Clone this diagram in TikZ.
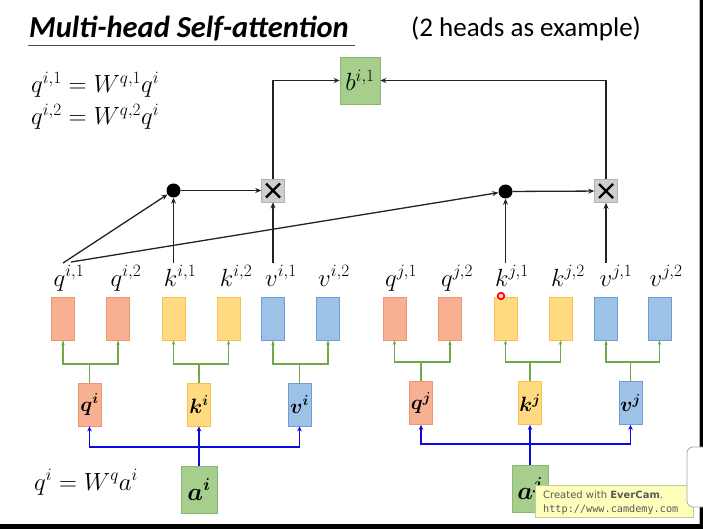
\documentclass[tikz,border=0pt]{standalone}
\usepackage{fontspec}
\usepackage{bm}
\newfontfamily\carlito{Carlito}
\newfontfamily\wmsans{DejaVu Sans}
\newfontfamily\wmmono{DejaVu Sans Mono}
\usetikzlibrary{arrows.meta,calc}
\definecolor{orfill}{RGB}{248,176,146}
\definecolor{ordraw}{RGB}{238,150,112}
\definecolor{yefill}{RGB}{255,218,128}
\definecolor{yedraw}{RGB}{246,192,82}
\definecolor{blfill}{RGB}{156,194,232}
\definecolor{bldraw}{RGB}{112,156,210}
\definecolor{grfill}{RGB}{166,206,140}
\definecolor{grdraw}{RGB}{138,184,112}
\definecolor{gyfill}{RGB}{206,206,206}
\definecolor{gydraw}{RGB}{178,178,178}
\definecolor{gline}{RGB}{112,170,72}
\definecolor{bline}{RGB}{10,10,225}
\definecolor{kline}{RGB}{35,35,35}
\definecolor{wmfill}{RGB}{255,255,188}
\definecolor{wmdraw}{RGB}{200,200,150}
\begin{document}
\begin{tikzpicture}[x=1pt,y=-1pt,
  hbox/.style={minimum width=23pt,minimum height=43pt,inner sep=0pt,line width=0.7pt},
  vbox/.style={minimum width=23pt,minimum height=43pt,inner sep=0pt,line width=0.7pt,font=\fontsize{22}{24}\selectfont},
  abox/.style={minimum width=36pt,minimum height=47pt,inner sep=0pt,line width=0.7pt,fill=grfill,draw=grdraw,font=\fontsize{24}{26}\selectfont},
  orb/.style={fill=orfill,draw=ordraw},
  yeb/.style={fill=yefill,draw=yedraw},
  blb/.style={fill=blfill,draw=bldraw},
  lab/.style={anchor=base,inner sep=0pt,font=\fontsize{24}{26}\selectfont},
  dotn/.style={circle,fill=black,minimum size=14pt,inner sep=0pt},
  mult/.style={rectangle,fill=gyfill,draw=gydraw,line width=0.5pt,minimum size=23pt,inner sep=0pt,
    path picture={\draw[line width=2.4pt,black]
      ($(path picture bounding box.center)+(-7,-7)$) -- ($(path picture bounding box.center)+(7,7)$)
      ($(path picture bounding box.center)+(-7,7)$) -- ($(path picture bounding box.center)+(7,-7)$);}},
  arr/.style={draw=kline,line width=1.3pt,-{Stealth[length=6pt,width=5pt]}},
  gl/.style={draw=gline,line width=1.2pt},
  garr/.style={gl,-{Stealth[length=4.5pt,width=3.5pt]}},
  bl/.style={draw=bline,line width=1.4pt},
  barr/.style={bl,-{Stealth[length=5pt,width=4.5pt]}},
  eqn/.style={anchor=base west,inner sep=0pt,font=\fontsize{25}{27}\selectfont}
]
\useasboundingbox (0,0) rectangle (703,529);
\fill[white] (0,0) rectangle (703,529);

% title
\node[anchor=base west,inner sep=0pt,font=\carlito\fontsize{30.5}{34}\selectfont\bfseries\itshape] (title) at (29,38) {Multi-head Self-attention};
\draw[line width=1.6pt,black!70] (28,45.5) -- (355,45.5);
\node[anchor=base west,inner sep=0pt,font=\carlito\fontsize{27}{30}\selectfont] (sub) at (411,37) {(2 heads as example)};

% equations
\node[eqn] (eq1) at (31,93) {$q^{i,1}=W^{q,1}q^{i}$};
\node[eqn] (eq2) at (31,125) {$q^{i,2}=W^{q,2}q^{i}$};
\node[eqn] (eq3) at (34,490) {$q^{i}=W^{q}a^{i}$};

% output
\node[abox,minimum width=40pt] (b) at (360,80.5) {$b^{i,1}$};

% dots and multipliers
\node[dotn] (dot1) at (173.5,190.5) {};
\node[dotn] (dot2) at (505.5,191.5) {};
\node[mult] (m1) at (273,190.5) {};
\node[mult] (m2) at (606,191) {};

% head boxes
\foreach \n/\x/\s in {hqi1/63/orb,hqi2/118/orb,hki1/173.5/yeb,hki2/228.5/yeb,hvi1/273/blb,hvi2/328/blb,
                      hqj1/394.5/orb,hqj2/450/orb,hkj1/505.5/yeb,hkj2/560.5/yeb,hvj1/606/blb,hvj2/659.5/blb}
  \node[hbox,\s] (\n) at (\x,318.5) {};

% labels
\node[lab] (qi1) at (69,286) {$q^{i,1}$};
\node[lab] (qi2) at (126,286) {$q^{i,2}$};
\node[lab] (ki1) at (180,286) {$k^{i,1}$};
\node[lab] (ki2) at (236,286) {$k^{i,2}$};
\node[lab] (vi1) at (281,286) {$v^{i,1}$};
\node[lab] (vi2) at (334,286) {$v^{i,2}$};
\node[lab] (qj1) at (401,286) {$q^{j,1}$};
\node[lab] (qj2) at (457,286) {$q^{j,2}$};
\node[lab] (kj1) at (512,286) {$k^{j,1}$};
\node[lab] (kj2) at (568,286) {$k^{j,2}$};
\node[lab] (vj1) at (616,286) {$v^{j,1}$};
\node[lab] (vj2) at (666,286) {$v^{j,2}$};

% q k v boxes
\node[vbox,orb] (qi) at (89.5,404.5) {$\bm{q}^{\bm{i}}$};
\node[vbox,yeb] (ki) at (199,404.5) {$\bm{k}^{\bm{i}}$};
\node[vbox,blb] (vi) at (299.5,404.5) {$\bm{v}^{\bm{i}}$};
\node[vbox,orb] (qj) at (421,403) {$\bm{q}^{\bm{j}}$};
\node[vbox,yeb] (kj) at (530,403) {$\bm{k}^{\bm{j}}$};
\node[vbox,blb] (vj) at (630.5,403) {$\bm{v}^{\bm{j}}$};

% inputs
\node[abox] (ai) at (199,489.5) {$\bm{a}^{\bm{i}}$};
\node[abox] (aj) at (530,488.5) {$\bm{a}^{\bm{j}}$};

% green branches
\foreach \v/\l/\r/\y in {qi/hqi1/hqi2/364,ki/hki1/hki2/364,vi/hvi1/hvi2/364,qj/hqj1/hqj2/362,kj/hkj1/hkj2/362,vj/hvj1/hvj2/362}{
  \draw[gl] (\v.north) -- (\v.north |- 0,\y) coordinate (g\v);
  \draw[garr] (g\v) -| (\l.south);
  \draw[garr] (g\v) -| (\r.south);
}

% blue branches
\draw[bl] (ai.north) -- (ai.north |- 0,447) coordinate (bi);
\draw[barr] (bi) -| (qi.south);
\draw[barr] (bi) -| (vi.south);
\draw[barr] (bi) -- (ki.south);
\draw[bl] (aj.north) -- (aj.north |- 0,444) coordinate (bj);
\draw[barr] (bj) -| (qj.south);
\draw[barr] (bj) -| (vj.south);
\draw[barr] (bj) -- (kj.south);

% black connectors
\coordinate (qs1) at (63,263);
\coordinate (qs2) at (71,262);
\draw[arr] (qs1) -- (dot1);
\draw[arr] (qs2) -- (dot2);
\draw[arr,shorten <=2pt] (dot1 |- ki1.north) -- (dot1);
\draw[arr,shorten <=2pt] (m1 |- vi1.north) -- (m1);
\draw[arr,shorten <=2pt] (dot2 |- kj1.north) -- (dot2);
\draw[arr,shorten <=2pt] (m2 |- vj1.north) -- (m2);
\draw[arr] (dot1) -- (m1);
\draw[arr] (dot2) -- (m2);
\draw[arr] (m1.north) |- (b.west);
\draw[arr] (m2.north) |- (b.east);

% cursor mark
\draw[red,line width=1.6pt,fill=red!20] (501,296) circle (3.3pt);

% watermark
\node[draw=wmdraw,fill=wmfill,line width=0.8pt,minimum width=158pt,minimum height=32pt,inner sep=0pt] (wm) at (614,501) {};
\node[anchor=base west,inner sep=0pt,text=black!65,font=\wmsans\fontsize{10}{12}\selectfont] (wm1) at (543,498) {Created with \textbf{EverCam}.};
\node[anchor=base west,inner sep=0pt,text=black!65,font=\wmmono\fontsize{10.2}{12}\selectfont] (wm2) at (543,512) {http://www.camdemy.com};

% screen borders
\fill[black] (700,0) rectangle (703,529);
\draw[black!30,line width=0.8pt] (699.2,0) -- (699.2,524);
\fill[black] (0,524) rectangle (703,529);
\draw[black!35,fill=white,line width=0.8pt,rounded corners=6pt] (687,447) rectangle (708,507);
\end{tikzpicture}
\end{document}
